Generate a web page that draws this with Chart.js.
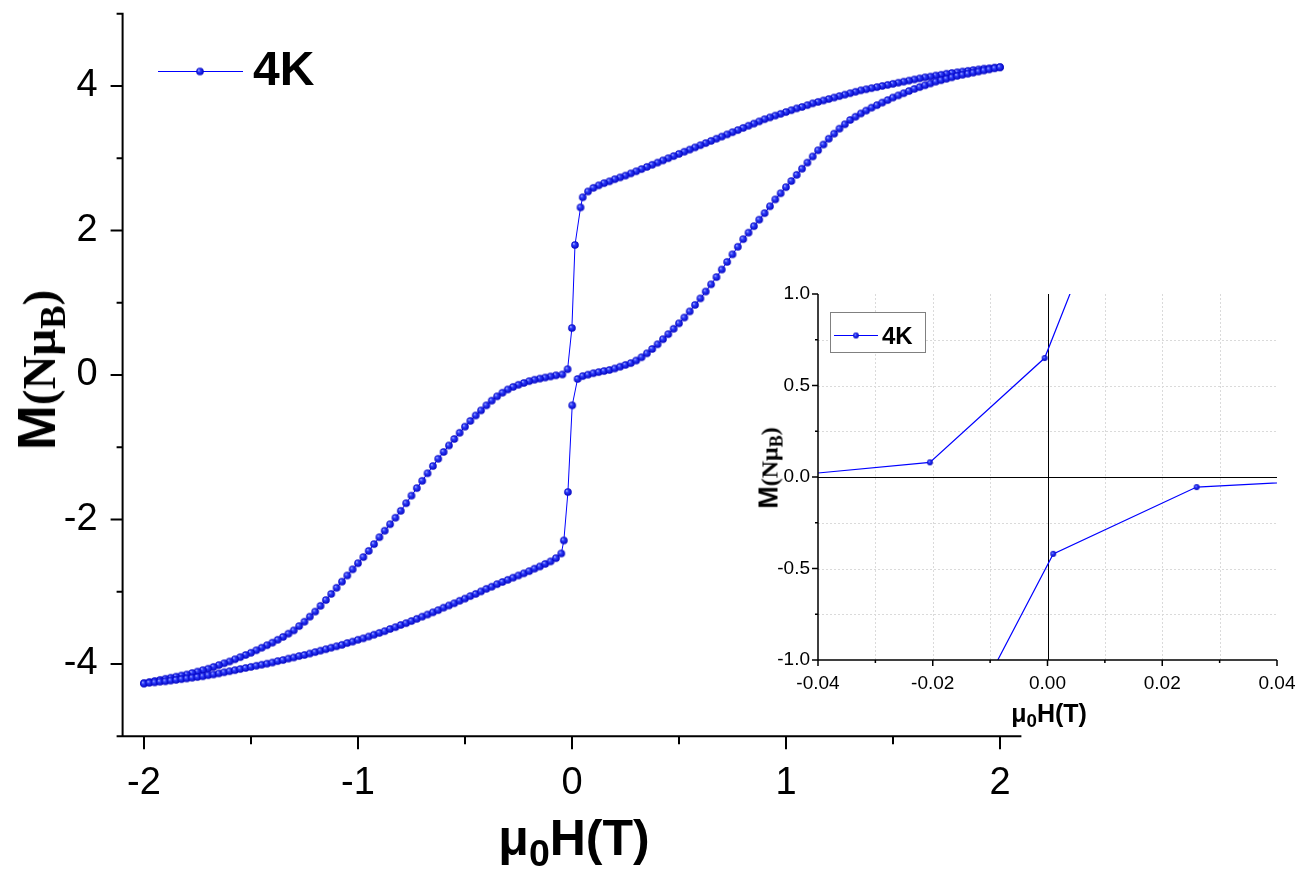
<!DOCTYPE html>
<html lang="en">
<head>
<meta charset="UTF-8">
<title>M(H) loop 4K</title>
<script src="https://cdn.jsdelivr.net/npm/chart.js@4.4.1/dist/chart.umd.min.js"></script>
<style>
  html, body { margin: 0; padding: 0; background: #fff; }
  .page { position: relative; width: 1301px; height: 869px; overflow: hidden;
          font-family: 'Liberation Sans', Arial, sans-serif; }
  canvas { position: absolute; }
  #main { left: 0; top: 0; }
  #inset { left: 740px; top: 280px; }
  .lbl { position: absolute; white-space: nowrap; line-height: 1; font-weight: bold; color: #000;
         transform: translate(-50%, -50%); }
  .rot { transform: translate(-50%, -50%) rotate(-90deg); }
  .serif { font-family: 'Liberation Serif', 'Times New Roman', serif; }
  .sb { position: relative; top: 0.28em; font-size: 0.75em; }
</style>
</head>
<body>
<div class="page">
  <canvas id="main" width="1301" height="869"></canvas>
  <canvas id="inset" width="561" height="450"></canvas>

  <div class="lbl" style="left:574px; top:838px; font-size:50px;">μ<span class="sb">0</span>H(T)</div>
  <div class="lbl rot" style="left:36px; top:370px;"><span style="font-size:54px;">M</span><span class="serif" style="font-size:47px;">(Nμ<span class="sb">B</span>)</span></div>

  <div class="lbl" style="left:1049px; top:713px; font-size:25px;">μ<span class="sb">0</span>H(T)</div>
  <div class="lbl rot" style="left:769px; top:468px;"><span style="font-size:27px;">M</span><span class="serif" style="font-size:24px;">(Nμ<span class="sb">B</span>)</span></div>
</div>

<script>
// descending sweep, +2 T -> -2 T
var downField = [
  2.000,1.975,1.950,1.925,1.900,1.875,1.850,1.825,1.800,1.775,
  1.750,1.725,1.700,1.675,1.650,1.625,1.600,1.575,1.550,1.525,
  1.500,1.475,1.450,1.425,1.400,1.375,1.350,1.325,1.300,1.275,
  1.250,1.225,1.200,1.175,1.150,1.125,1.100,1.075,1.050,1.025,
  1.000,0.975,0.950,0.925,0.900,0.875,0.850,0.825,0.800,0.775,
  0.750,0.725,0.700,0.675,0.650,0.625,0.600,0.575,0.550,0.525,
  0.500,0.475,0.450,0.425,0.400,0.375,0.350,0.325,0.300,0.275,
  0.250,0.225,0.200,0.175,0.150,0.125,0.100,0.075,0.050,
  0.040,0.014,-0.0005,-0.0205,-0.045,
  -0.075,-0.100,-0.125,-0.150,-0.175,-0.200,-0.225,-0.250,-0.275,-0.300,
  -0.325,-0.350,-0.375,-0.400,-0.425,-0.450,-0.475,-0.500,-0.525,-0.550,
  -0.575,-0.600,-0.625,-0.650,-0.675,-0.700,-0.725,-0.750,-0.775,-0.800,
  -0.825,-0.850,-0.875,-0.900,-0.925,-0.950,-0.975,-1.000,-1.025,-1.050,
  -1.075,-1.100,-1.125,-1.150,-1.175,-1.200,-1.225,-1.250,-1.275,-1.300,
  -1.325,-1.350,-1.375,-1.400,-1.425,-1.450,-1.475,-1.500,-1.525,-1.550,
  -1.575,-1.600,-1.625,-1.650,-1.675,-1.700,-1.725,-1.750,-1.775,-1.800,
  -1.825,-1.850,-1.875,-1.900,-1.925,-1.950,-1.975,-2.000
];
var downMoment = [
  4.26,4.255,4.245,4.24,4.23,4.22,4.21,4.20,4.19,4.18,
  4.17,4.155,4.145,4.13,4.12,4.105,4.09,4.075,4.06,4.045,
  4.03,4.015,4.00,3.985,3.97,3.955,3.94,3.92,3.90,3.88,
  3.86,3.84,3.82,3.80,3.78,3.76,3.735,3.71,3.69,3.665,
  3.64,3.615,3.59,3.565,3.54,3.51,3.48,3.45,3.42,3.39,
  3.36,3.33,3.30,3.27,3.24,3.21,3.18,3.15,3.12,3.09,
  3.06,3.03,3.00,2.97,2.94,2.91,2.88,2.85,2.82,2.79,
  2.76,2.735,2.71,2.68,2.655,2.625,2.59,2.54,2.46,
  2.32,1.80,0.65,0.08,0.007,
  -0.005,-0.02,-0.035,-0.05,-0.065,-0.085,-0.11,-0.135,-0.165,-0.20,
  -0.245,-0.295,-0.355,-0.42,-0.49,-0.56,-0.635,-0.715,-0.80,-0.885,
  -0.975,-1.065,-1.16,-1.26,-1.36,-1.465,-1.565,-1.67,-1.775,-1.88,
  -1.975,-2.065,-2.155,-2.245,-2.34,-2.435,-2.52,-2.605,-2.69,-2.775,
  -2.86,-2.945,-3.03,-3.115,-3.195,-3.275,-3.345,-3.415,-3.475,-3.535,
  -3.58,-3.625,-3.665,-3.705,-3.74,-3.775,-3.81,-3.845,-3.875,-3.905,
  -3.935,-3.965,-3.99,-4.015,-4.04,-4.065,-4.085,-4.105,-4.125,-4.145,
  -4.16,-4.175,-4.19,-4.205,-4.22,-4.235,-4.25,-4.265
];

// ascending sweep, -2 T -> +2 T
var upField = [
  -2.000,-1.975,-1.950,-1.925,-1.900,-1.875,-1.850,-1.825,-1.800,-1.775,
  -1.750,-1.725,-1.700,-1.675,-1.650,-1.625,-1.600,-1.575,-1.550,-1.525,
  -1.500,-1.475,-1.450,-1.425,-1.400,-1.375,-1.350,-1.325,-1.300,-1.275,
  -1.250,-1.225,-1.200,-1.175,-1.150,-1.125,-1.100,-1.075,-1.050,-1.025,
  -1.000,-0.975,-0.950,-0.925,-0.900,-0.875,-0.850,-0.825,-0.800,-0.775,
  -0.750,-0.725,-0.700,-0.675,-0.650,-0.625,-0.600,-0.575,-0.550,-0.525,
  -0.500,-0.475,-0.450,-0.425,-0.400,-0.375,-0.350,-0.325,-0.300,-0.275,
  -0.250,-0.225,-0.200,-0.175,-0.150,-0.125,-0.100,-0.075,-0.050,
  -0.038,-0.019,0.001,0.026,
  0.050,0.075,0.100,0.125,0.150,0.175,0.200,0.225,0.250,0.275,
  0.300,0.325,0.350,0.375,0.400,0.425,0.450,0.475,0.500,0.525,
  0.550,0.575,0.600,0.625,0.650,0.675,0.700,0.725,0.750,0.775,
  0.800,0.825,0.850,0.875,0.900,0.925,0.950,0.975,1.000,1.025,
  1.050,1.075,1.100,1.125,1.150,1.175,1.200,1.225,1.250,1.275,
  1.300,1.325,1.350,1.375,1.400,1.425,1.450,1.475,1.500,1.525,
  1.550,1.575,1.600,1.625,1.650,1.675,1.700,1.725,1.750,1.775,
  1.800,1.825,1.850,1.875,1.900,1.925,1.950,1.975,2.000
];
var upMoment = [
  -4.27,-4.26,-4.255,-4.245,-4.24,-4.23,-4.22,-4.21,-4.20,-4.19,
  -4.18,-4.17,-4.155,-4.145,-4.13,-4.115,-4.10,-4.085,-4.07,-4.055,
  -4.04,-4.025,-4.01,-3.995,-3.98,-3.96,-3.945,-3.925,-3.91,-3.89,
  -3.875,-3.855,-3.835,-3.815,-3.795,-3.775,-3.755,-3.735,-3.71,-3.69,
  -3.665,-3.645,-3.62,-3.595,-3.57,-3.545,-3.515,-3.49,-3.46,-3.435,
  -3.405,-3.375,-3.345,-3.315,-3.285,-3.255,-3.22,-3.19,-3.16,-3.125,
  -3.095,-3.06,-3.03,-2.995,-2.96,-2.93,-2.895,-2.865,-2.835,-2.805,
  -2.775,-2.745,-2.715,-2.68,-2.65,-2.615,-2.58,-2.535,-2.47,
  -2.29,-1.62,-0.42,-0.055,
  -0.015,0.005,0.025,0.04,0.055,0.07,0.09,0.115,0.14,0.165,
  0.20,0.245,0.30,0.36,0.425,0.495,0.565,0.64,0.715,0.795,
  0.88,0.97,1.06,1.155,1.255,1.355,1.46,1.565,1.67,1.775,
  1.88,1.97,2.06,2.15,2.24,2.335,2.43,2.515,2.60,2.685,
  2.77,2.855,2.94,3.025,3.11,3.19,3.27,3.34,3.41,3.47,
  3.53,3.575,3.62,3.66,3.70,3.735,3.77,3.805,3.84,3.87,
  3.90,3.93,3.96,3.985,4.01,4.035,4.06,4.08,4.10,4.12,
  4.14,4.155,4.17,4.185,4.20,4.215,4.23,4.245,4.26
];

var seriesName = '4K';

// tick marks (labels come from the Chart.js scales)
var mainXMajor = [-2, -1, 0, 1, 2];
var mainXMinor = [-1.5, -0.5, 0.5, 1.5];
var mainYMajor = [-4, -2, 0, 2, 4];
var mainYMinor = [-5, -3, -1, 1, 3, 5];
var insetXMajor = [-0.04, -0.02, 0, 0.02, 0.04];
var insetXMinor = [-0.03, -0.01, 0.01, 0.03];
var insetYMajor = [-1, -0.5, 0, 0.5, 1];
var insetYMinor = [-0.75, -0.25, 0.25, 0.75];
var insetXGrid = [-0.03, -0.02, -0.01, 0.01, 0.02, 0.03];
var insetYGrid = [-0.75, -0.5, -0.25, 0.25, 0.5, 0.75];

var SANS = "'Liberation Sans', Arial, sans-serif";
var BLUE = '#0000ff';

var loop = [];
downField.forEach(function (h, i) { loop.push({ x: h, y: downMoment[i] }); });
upField.forEach(function (h, i) { loop.push({ x: h, y: upMoment[i] }); });

// shaded ball marker like the original plot
function ball(r) {
  var c = document.createElement('canvas');
  var s = Math.ceil(r * 2 + 2);
  c.width = s; c.height = s;
  var g = c.getContext('2d');
  var m = s / 2;
  var grad = g.createRadialGradient(m - r * 0.35, m - r * 0.35, 0, m, m, r);
  grad.addColorStop(0, '#d8deff');
  grad.addColorStop(0.3, '#3344ff');
  grad.addColorStop(1, '#0000c0');
  g.fillStyle = grad;
  g.beginPath();
  g.arc(m, m, r, 0, Math.PI * 2);
  g.fill();
  return c;
}
var dotBig = ball(3.8);
var dotSmall = ball(2.9);

function tickMarks(ctx, scale, vals, len, horiz, edge) {
  vals.forEach(function (v) {
    var p = scale.getPixelForValue(v);
    if (horiz) { ctx.moveTo(p, edge); ctx.lineTo(p, edge + len); }
    else { ctx.moveTo(edge, p); ctx.lineTo(edge - len, p); }
  });
}

var mainFrame = {
  id: 'mainFrame',
  afterDraw: function (chart) {
    var ctx = chart.ctx, a = chart.chartArea, x = chart.scales.x, y = chart.scales.y;
    ctx.save();
    ctx.strokeStyle = '#000';
    ctx.lineWidth = 2;
    ctx.beginPath();
    ctx.moveTo(a.left, a.top - 1); ctx.lineTo(a.left, a.bottom);
    ctx.moveTo(a.left - 6, a.bottom); ctx.lineTo(a.right, a.bottom);
    tickMarks(ctx, x, mainXMajor, 13, true, a.bottom);
    tickMarks(ctx, x, mainXMinor, 8, true, a.bottom);
    tickMarks(ctx, y, mainYMajor, 12, false, a.left);
    tickMarks(ctx, y, mainYMinor, 6, false, a.left);
    ctx.stroke();

    // legend
    ctx.strokeStyle = BLUE;
    ctx.lineWidth = 1;
    ctx.beginPath();
    ctx.moveTo(158, 71.5); ctx.lineTo(243, 71.5);
    ctx.stroke();
    ctx.drawImage(dotBig, 200 - dotBig.width / 2, 71.5 - dotBig.height / 2);
    ctx.fillStyle = '#000';
    ctx.font = 'bold 48px ' + SANS;
    ctx.textBaseline = 'alphabetic';
    ctx.fillText(seriesName, 253, 85);
    ctx.restore();
  }
};

var insetFrame = {
  id: 'insetFrame',
  beforeDatasetsDraw: function (chart) {
    var ctx = chart.ctx, a = chart.chartArea, x = chart.scales.x, y = chart.scales.y;
    ctx.save();
    ctx.strokeStyle = '#dadada';
    ctx.lineWidth = 1;
    ctx.setLineDash([2, 2]);
    ctx.beginPath();
    insetXGrid.forEach(function (v) {
      var p = Math.round(x.getPixelForValue(v)) + 0.5;
      ctx.moveTo(p, a.top); ctx.lineTo(p, a.bottom);
    });
    insetYGrid.forEach(function (v) {
      var p = Math.round(y.getPixelForValue(v)) + 0.5;
      ctx.moveTo(a.left, p); ctx.lineTo(a.right, p);
    });
    ctx.stroke();
    ctx.setLineDash([]);
    ctx.strokeStyle = '#000';
    ctx.beginPath();
    var x0 = Math.round(x.getPixelForValue(0)) + 0.5;
    var y0 = Math.round(y.getPixelForValue(0)) + 0.5;
    ctx.moveTo(x0, a.top); ctx.lineTo(x0, a.bottom);
    ctx.moveTo(a.left, y0); ctx.lineTo(a.right, y0);
    ctx.stroke();
    ctx.restore();
  },
  afterDraw: function (chart) {
    var ctx = chart.ctx, a = chart.chartArea, x = chart.scales.x, y = chart.scales.y;
    ctx.save();
    ctx.strokeStyle = '#000';
    ctx.lineWidth = 1.5;
    ctx.beginPath();
    ctx.moveTo(a.left, a.top); ctx.lineTo(a.left, a.bottom);
    ctx.moveTo(a.left, a.bottom); ctx.lineTo(a.right, a.bottom);
    tickMarks(ctx, x, insetXMajor, 6, true, a.bottom);
    tickMarks(ctx, x, insetXMinor, 3, true, a.bottom);
    tickMarks(ctx, y, insetYMajor, 6, false, a.left);
    tickMarks(ctx, y, insetYMinor, 3, false, a.left);
    ctx.stroke();

    // boxed legend
    ctx.fillStyle = '#fff';
    ctx.fillRect(90, 32, 96, 41);
    ctx.strokeStyle = '#808080';
    ctx.lineWidth = 1;
    ctx.strokeRect(90.5, 32.5, 95, 40);
    ctx.strokeStyle = BLUE;
    ctx.beginPath();
    ctx.moveTo(94, 55.5); ctx.lineTo(138, 55.5);
    ctx.stroke();
    ctx.drawImage(dotSmall, 116 - dotSmall.width / 2, 55.5 - dotSmall.height / 2);
    ctx.fillStyle = '#000';
    ctx.font = 'bold 24px ' + SANS;
    ctx.fillText(seriesName, 142, 64);
    ctx.restore();
  }
};

function loopDataset(dot, r, w) {
  return {
    label: seriesName,
    data: loop,
    showLine: true,
    borderColor: BLUE,
    borderWidth: w,
    pointStyle: dot,
    pointRadius: r,
    pointHoverRadius: r,
    tension: 0
  };
}

new Chart(document.getElementById('main'), {
  type: 'scatter',
  data: { datasets: [loopDataset(dotBig, 3.8, 1)] },
  plugins: [mainFrame],
  options: {
    responsive: false,
    animation: false,
    events: [],
    layout: { padding: { left: 0, top: 13.75, right: 279.6, bottom: 0 } },
    plugins: { legend: { display: false }, tooltip: { enabled: false } },
    scales: {
      x: {
        type: 'linear', min: -2.1, max: 2.1,
        grid: { display: false, drawTicks: false },
        border: { display: false },
        ticks: {
          stepSize: 1, includeBounds: false, padding: 24, color: '#000',
          font: { family: SANS, size: 38 },
          callback: function (v) { return String(v); }
        },
        afterFit: function (s) { s.height = 132.75; s.paddingLeft = 0; s.paddingRight = 0; }
      },
      y: {
        type: 'linear', min: -5, max: 5,
        grid: { display: false, drawTicks: false },
        border: { display: false },
        ticks: {
          stepSize: 1, padding: 25, color: '#000',
          font: { family: SANS, size: 38 },
          callback: function (v) { return v % 2 === 0 ? String(v) : ''; }
        },
        afterFit: function (s) { s.width = 122.6; s.paddingTop = 0; s.paddingBottom = 0; }
      }
    }
  }
});

new Chart(document.getElementById('inset'), {
  type: 'scatter',
  data: { datasets: [loopDataset(dotSmall, 2.9, 1.2)] },
  plugins: [insetFrame],
  options: {
    responsive: false,
    animation: false,
    events: [],
    layout: { padding: { left: 0, top: 14, right: 24, bottom: 0 } },
    plugins: { legend: { display: false }, tooltip: { enabled: false } },
    scales: {
      x: {
        type: 'linear', min: -0.04, max: 0.04,
        grid: { display: false, drawTicks: false },
        border: { display: false },
        ticks: {
          stepSize: 0.02, padding: 12, color: '#000',
          font: { family: SANS, size: 19 },
          callback: function (v) { return Math.abs(v) < 1e-9 ? '0.00' : v.toFixed(2); }
        },
        afterFit: function (s) { s.height = 70; s.paddingLeft = 0; s.paddingRight = 0; }
      },
      y: {
        type: 'linear', min: -1, max: 1,
        grid: { display: false, drawTicks: false },
        border: { display: false },
        ticks: {
          stepSize: 0.5, padding: 8, color: '#000',
          font: { family: SANS, size: 19 },
          callback: function (v) { return Math.abs(v) < 1e-9 ? '0.0' : v.toFixed(1); }
        },
        afterFit: function (s) { s.width = 78; s.paddingTop = 0; s.paddingBottom = 0; }
      }
    }
  }
});
</script>
</body>
</html>
